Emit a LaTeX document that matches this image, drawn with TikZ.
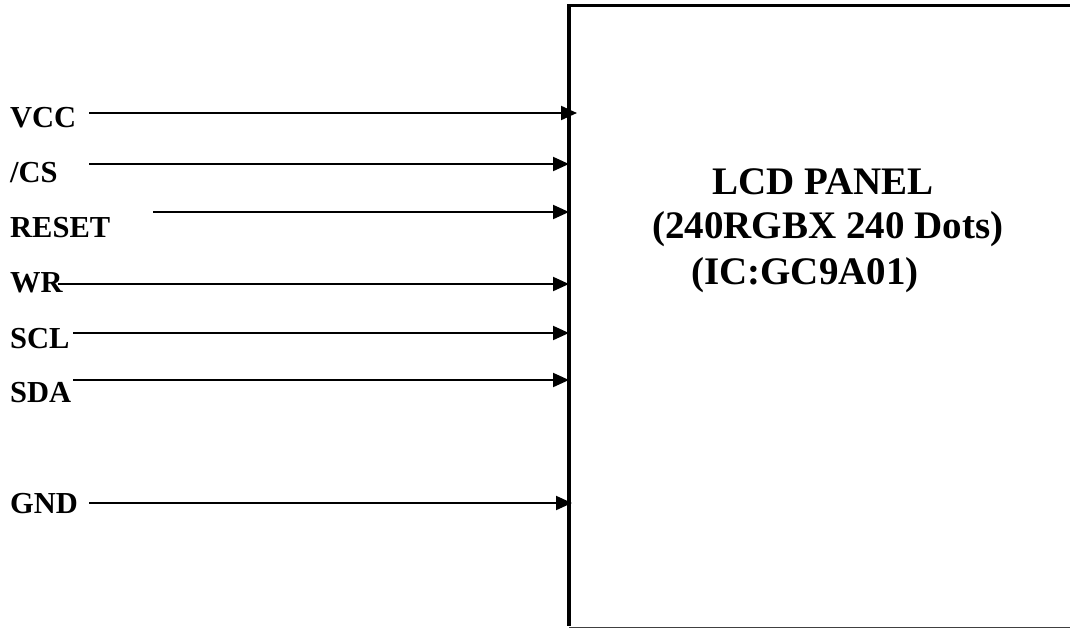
\documentclass[tikz,border=0pt]{standalone}
\usepackage{fontspec}
\setmainfont{Liberation Serif}
\usetikzlibrary{arrows.meta}
\begin{document}
\begin{tikzpicture}[x=1pt,y=-1pt,
  pin/.style={anchor=base west,inner sep=0pt,font=\bfseries\fontsize{30.5}{36}\selectfont},
  paneltext/.style={anchor=base west,inner sep=0pt,font=\bfseries\fontsize{39}{46}\selectfont},
  sig/.style={line width=2pt,-{Triangle[length=16pt,width=14pt]}}]
\useasboundingbox (0,0) rectangle (1070,629);
% panel outline
\coordinate (tl) at (569,5.5);
\coordinate (tr) at (1072,5.5);
\coordinate (bl) at (569,627.5);
\coordinate (br) at (1072,627.5);
\draw[line width=3pt] ([xshift=-2pt]tl) -- (tr);
\draw[line width=1.5pt,black!75] (bl) -- (br);
\draw[line width=4pt] ([yshift=-1.5pt]tl) -- ([yshift=1.5pt]bl);
% panel text
\node[paneltext] (t1) at (712,194) {LCD PANEL};
\node[paneltext] (t2) at (652,238) {(240RGBX 240 Dots)};
\node[paneltext] (t3) at (691,284) {(IC:GC9A01)};
% pin labels
\node[pin] (vcc) at (10,127) {VCC};
\node[pin] (cs) at (10,182) {/CS};
\node[pin] (reset) at (10,237) {RESET};
\node[pin] (wr) at (10,292) {WR};
\node[pin] (scl) at (10,348) {SCL};
\node[pin] (sda) at (10,402) {SDA};
\node[pin] (gnd) at (10,513) {GND};
% line start and end points
\coordinate (vccs) at (89,113);   \coordinate (vcce) at (577,113);
\coordinate (css) at (89,164);    \coordinate (cse) at (569,164);
\coordinate (resets) at (153,212);\coordinate (resete) at (569,212);
\coordinate (wrs) at (58,284);    \coordinate (wre) at (569,284);
\coordinate (scls) at (73,333);   \coordinate (scle) at (569,333);
\coordinate (sdas) at (73,380);   \coordinate (sdae) at (569,380);
\coordinate (gnds) at (89,503);   \coordinate (gnde) at (572,503);
\draw[sig] (vccs) -- (vcce);
\draw[sig] (css) -- (cse);
\draw[sig] (resets) -- (resete);
\draw[sig] (wrs) -- (wre);
\draw[sig] (scls) -- (scle);
\draw[sig] (sdas) -- (sdae);
\draw[sig] (gnds) -- (gnde);
\end{tikzpicture}
\end{document}
